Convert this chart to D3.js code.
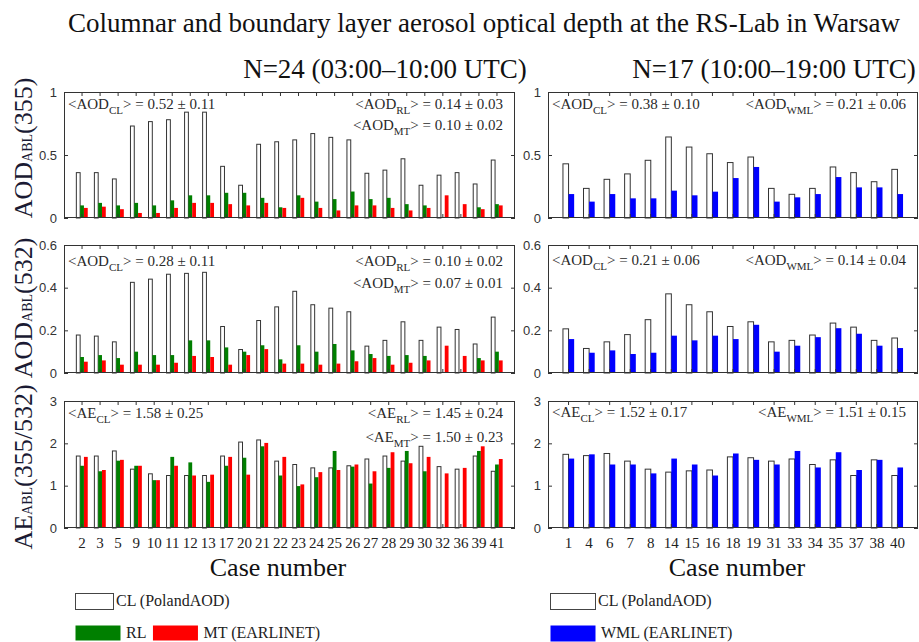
<!DOCTYPE html>
<html><head><meta charset="utf-8">
<script src="https://cdn.jsdelivr.net/npm/d3@7"></script>
<style>
body{margin:0;background:#fff;}
svg{display:block;}
</style></head>
<body>
<svg id="chart" width="919" height="642"></svg>
<script>
// ---------------- DATA ----------------
const casesL = [2,3,5,9,10,11,12,13,17,20,21,22,23,24,25,26,27,28,29,30,32,36,39,41];
const casesR = [1,4,6,7,8,14,15,16,18,19,31,33,34,35,37,38,40];

// left: 03:00-10:00 UTC
const aod355CL_L = [0.36,0.36,0.31,0.73,0.765,0.78,0.84,0.84,0.41,0.26,0.585,0.605,0.62,0.67,0.64,0.62,0.355,0.38,0.47,0.26,0.34,0.36,0.27,0.46];
const aod355RL_L = [0.10,0.12,0.10,0.12,0.10,0.14,0.18,0.18,0.20,0.20,0.16,0.085,0.18,0.13,0.15,0.21,0.15,0.16,0.11,0.10,null,null,0.085,0.11];
const aod355MT_L = [0.08,0.09,0.07,0.04,0.04,0.08,0.12,0.12,0.11,0.10,0.12,0.08,0.16,0.08,0.06,0.10,0.10,0.08,0.06,0.08,0.18,0.11,0.07,0.10];

const aod532CL_L = [0.178,0.173,0.146,0.425,0.44,0.463,0.467,0.472,0.218,0.11,0.246,0.31,0.383,0.32,0.304,0.287,0.126,0.153,0.24,0.153,0.215,0.204,0.136,0.262];
const aod532RL_L = [0.075,0.084,0.07,0.10,0.084,0.084,0.153,0.153,0.12,0.10,0.13,0.064,0.13,0.10,0.136,0.106,0.089,0.08,0.084,0.08,null,null,0.07,0.10];
const aod532MT_L = [0.053,0.059,0.039,0.039,0.039,0.048,0.08,0.075,0.039,0.084,0.112,0.044,0.044,0.039,0.044,0.055,0.07,0.039,0.048,0.059,0.128,0.08,0.059,0.059];

const aeCL_L = [1.70,1.70,1.82,1.39,1.28,1.24,1.24,1.24,1.70,2.03,2.08,1.58,1.50,1.42,1.42,1.47,1.63,1.70,1.58,1.93,1.45,1.39,1.70,1.34];
const aeRL_L = [1.47,1.34,1.59,1.47,1.13,1.68,1.55,1.09,1.47,1.66,1.93,1.24,0.99,1.20,1.82,1.45,1.05,1.42,1.82,1.34,null,null,1.82,1.50];
const aeMT_L = [1.68,1.37,1.61,1.47,1.13,1.47,1.24,1.26,1.68,1.26,2.01,1.68,1.03,1.32,1.37,1.50,1.34,1.79,1.53,1.68,1.29,1.42,1.93,1.63];

// right: 10:00-19:00 UTC
const aod355CL_R  = [0.43,0.235,0.307,0.35,0.458,0.643,0.563,0.51,0.44,0.484,0.235,0.188,0.235,0.405,0.36,0.288,0.386];
const aod355WML_R = [0.19,0.13,0.19,0.156,0.156,0.217,0.18,0.209,0.317,0.405,0.13,0.164,0.19,0.325,0.243,0.243,0.19];
const aod532CL_R  = [0.207,0.115,0.146,0.18,0.25,0.371,0.32,0.287,0.218,0.24,0.146,0.153,0.178,0.234,0.215,0.153,0.164];
const aod532WML_R = [0.159,0.095,0.106,0.089,0.095,0.175,0.153,0.175,0.159,0.226,0.10,0.128,0.168,0.21,0.184,0.128,0.117];
const aeCL_R  = [1.74,1.71,1.76,1.58,1.39,1.32,1.35,1.37,1.68,1.66,1.58,1.63,1.50,1.61,1.24,1.61,1.24];
const aeWML_R = [1.64,1.74,1.50,1.50,1.29,1.64,1.50,1.24,1.76,1.61,1.50,1.82,1.43,1.79,1.37,1.61,1.43];

const yTicksAOD355 = [0,0.5,1];
const yTickLabelsAOD355 = ["0","0.5","1"];
const yTicksAOD532 = [0,0.2,0.4,0.6];
const yTickLabelsAOD532 = ["0","0.2","0.4","0.6"];
const yTicksAE = [0,1,2,3];
const yTickLabelsAE = ["0","1","2","3"];

const titleText = "Columnar and boundary layer aerosol optical depth at  the RS-Lab in Warsaw";
const subtitleL = "N=24 (03:00\u201310:00 UTC)";
const subtitleR = "N=17 (10:00\u201319:00 UTC)";
const xLabel = "Case number";

// ---------------- STYLE ----------------
const COL = {CL:"#ffffff", RL:"#007f00", MT:"#ff0000", WML:"#0000ff"};
const SERIF = "'Liberation Serif','Times New Roman',serif";
const SANS = "'Liberation Sans',Arial,sans-serif";
const TXT = "#2a2a2a";

const svg = d3.select("#chart");

// Title & subtitles
svg.append("text").attr("x",484).attr("y",32).attr("text-anchor","middle")
  .attr("font-family",SERIF).attr("font-size",27).attr("fill","#111").text(titleText);
svg.append("text").attr("x",385).attr("y",78).attr("text-anchor","middle")
  .attr("font-family",SERIF).attr("font-size",27).attr("fill","#111").text(subtitleL);
svg.append("text").attr("x",774).attr("y",78).attr("text-anchor","middle")
  .attr("font-family",SERIF).attr("font-size",27).attr("fill","#111").text(subtitleR);

// Panel layout
const colsX = {L:[64,515], R:[548,918]};
const rowsY = [[92,218],[245,373],[401,528]];

function annot(g, x, y, anchor, main, sub, rest){
  const t = g.append("text").attr("x",x).attr("y",y).attr("text-anchor",anchor)
    .attr("font-family",SERIF).attr("font-size",15).attr("fill",TXT);
  t.append("tspan").text(main);
  t.append("tspan").attr("font-size",11).attr("dy",5).text(sub);
  t.append("tspan").attr("dy",-5).text(rest);
}

function panel(opt){
  const [x0,x1] = colsX[opt.col];
  const [y0,y1] = rowsY[opt.row];
  const g = svg.append("g");
  const x = d3.scaleBand().domain(opt.cases.map(String)).range([x0,x1]).paddingInner(0).paddingOuter(0.5);
  const y = d3.scaleLinear().domain([0,opt.ymax]).range([y1,y0]);
  const bw = opt.barW;
  const sub = d3.scaleBand().domain(opt.series.map(s=>s.key))
      .range([-bw*opt.series.length/2, bw*opt.series.length/2]).padding(0);

  // bars
  opt.series.forEach(s=>{
    const d = opt.cases.map((c,i)=>({c:String(c), v:s.values[i]})).filter(o=>o.v!=null);
    g.selectAll(null).data(d).enter().append("rect")
      .attr("x",o=>x(o.c)+x.bandwidth()/2+sub(s.key))
      .attr("width",sub.bandwidth())
      .attr("y",o=>y(o.v))
      .attr("height",o=>y(0)-y(o.v))
      .attr("fill",COL[s.key])
      .attr("stroke",s.key==="CL"?"#333":"none")
      .attr("stroke-width",s.key==="CL"?1:0);
  });

  // axes with inward ticks
  const ax = g.append("g").attr("transform",`translate(${x0},0)`)
    .call(d3.axisLeft(y).tickValues(opt.ticks).tickFormat((d,i)=>opt.tickLabels[i]).tickSize(-4).tickPadding(7));
  ax.select(".domain").remove();
  ax.selectAll("text").attr("font-family",SANS).attr("font-size",13).attr("fill","#333");
  ax.selectAll("line").attr("stroke","#333");
  const ar = g.append("g").attr("transform",`translate(${x1},0)`)
    .call(d3.axisRight(y).tickValues(opt.ticks).tickFormat("").tickSize(-4));
  ar.select(".domain").remove(); ar.selectAll("line").attr("stroke","#333");
  const at = g.append("g").attr("transform",`translate(0,${y0})`)
    .call(d3.axisTop(x).tickFormat("").tickSize(-4));
  at.select(".domain").remove(); at.selectAll("line").attr("stroke","#333");
  const ab = g.append("g").attr("transform",`translate(0,${y1})`)
    .call(d3.axisBottom(x).tickFormat(opt.showX? (d=>d) : "").tickSize(-4).tickPadding(9));
  ab.select(".domain").remove(); ab.selectAll("line").attr("stroke","#333");
  ab.selectAll("text").attr("font-family",SERIF).attr("font-size",15).attr("fill","#222");

  // frame
  g.append("rect").attr("x",x0+0.5).attr("y",y0+0.5).attr("width",x1-x0-1).attr("height",y1-y0-1)
    .attr("fill","none").attr("stroke","#333").attr("stroke-width",1);

  // annotations
  opt.annots.forEach(a=>annot(g, a.side==="l"? x0+4 : x1-12, y0+a.dy, a.side==="l"?"start":"end", a.main, a.sub, a.rest));
}

const seriesL = (cl,rl,mt)=>[{key:"CL",values:cl},{key:"RL",values:rl},{key:"MT",values:mt}];
const seriesR = (cl,w)=>[{key:"CL",values:cl},{key:"WML",values:w}];

panel({col:"L",row:0,cases:casesL,ymax:1,ticks:yTicksAOD355,tickLabels:yTickLabelsAOD355,barW:3.8,
  series:seriesL(aod355CL_L,aod355RL_L,aod355MT_L),
  annots:[{side:"l",dy:17,main:"<AOD",sub:"CL",rest:"> = 0.52 \u00b1 0.11"},
          {side:"r",dy:17,main:"<AOD",sub:"RL",rest:"> = 0.14 \u00b1 0.03"},
          {side:"r",dy:38,main:"<AOD",sub:"MT",rest:"> = 0.10 \u00b1 0.02"}]});
panel({col:"L",row:1,cases:casesL,ymax:0.6,ticks:yTicksAOD532,tickLabels:yTickLabelsAOD532,barW:3.8,
  series:seriesL(aod532CL_L,aod532RL_L,aod532MT_L),
  annots:[{side:"l",dy:21,main:"<AOD",sub:"CL",rest:"> = 0.28 \u00b1 0.11"},
          {side:"r",dy:21,main:"<AOD",sub:"RL",rest:"> = 0.10 \u00b1 0.02"},
          {side:"r",dy:43,main:"<AOD",sub:"MT",rest:"> = 0.07 \u00b1 0.01"}]});
panel({col:"L",row:2,cases:casesL,ymax:3,ticks:yTicksAE,tickLabels:yTickLabelsAE,barW:3.8,showX:true,
  series:seriesL(aeCL_L,aeRL_L,aeMT_L),
  annots:[{side:"l",dy:17,main:"<AE",sub:"CL",rest:"> = 1.58 \u00b1 0.25"},
          {side:"r",dy:17,main:"<AE",sub:"RL",rest:"> = 1.45 \u00b1 0.24"},
          {side:"r",dy:41,main:"<AE",sub:"MT",rest:"> = 1.50 \u00b1 0.23"}]});

panel({col:"R",row:0,cases:casesR,ymax:1,ticks:yTicksAOD355,tickLabels:yTickLabelsAOD355,barW:5.6,
  series:seriesR(aod355CL_R,aod355WML_R),
  annots:[{side:"l",dy:17,main:"<AOD",sub:"CL",rest:"> = 0.38 \u00b1 0.10"},
          {side:"r",dy:17,main:"<AOD",sub:"WML",rest:"> = 0.21 \u00b1 0.06"}]});
panel({col:"R",row:1,cases:casesR,ymax:0.6,ticks:yTicksAOD532,tickLabels:yTickLabelsAOD532,barW:5.6,
  series:seriesR(aod532CL_R,aod532WML_R),
  annots:[{side:"l",dy:20,main:"<AOD",sub:"CL",rest:"> = 0.21 \u00b1 0.06"},
          {side:"r",dy:20,main:"<AOD",sub:"WML",rest:"> = 0.14 \u00b1 0.04"}]});
panel({col:"R",row:2,cases:casesR,ymax:3,ticks:yTicksAE,tickLabels:yTickLabelsAE,barW:5.6,showX:true,
  series:seriesR(aeCL_R,aeWML_R),
  annots:[{side:"l",dy:16,main:"<AE",sub:"CL",rest:"> = 1.52 \u00b1 0.17"},
          {side:"r",dy:16,main:"<AE",sub:"WML",rest:"> = 1.51 \u00b1 0.15"}]});

// y labels
function ylab(cy, main, rest){
  const t = svg.append("text").attr("transform",`translate(32,${cy}) rotate(-90)`)
    .attr("text-anchor","middle").attr("font-family",SERIF).attr("font-size",26).attr("fill","#1a1a33");
  t.append("tspan").text(main);
  t.append("tspan").attr("font-size",14).text("ABL");
  t.append("tspan").text(rest);
}
ylab(148,"AOD","(355)");
ylab(308,"AOD","(532)");
ylab(467,"AE","(355/532)");

// x labels
svg.append("text").attr("x",278).attr("y",576).attr("text-anchor","middle")
  .attr("font-family",SERIF).attr("font-size",26).attr("fill","#111").text(xLabel);
svg.append("text").attr("x",737).attr("y",576).attr("text-anchor","middle")
  .attr("font-family",SERIF).attr("font-size",26).attr("fill","#111").text(xLabel);

// legends
const legendL1 = [{key:"CL",label:"CL (PolandAOD)"}];
const legendL2 = [{key:"RL",label:"RL"},{key:"MT",label:"MT (EARLINET)"}];
const legendR1 = [{key:"CL",label:"CL (PolandAOD)"}];
const legendR2 = [{key:"WML",label:"WML  (EARLINET)"}];
function legendItem(x,y,w,h,key,label,gap){
  svg.append("rect").attr("x",x+0.5).attr("y",y+0.5).attr("width",w).attr("height",h)
    .attr("fill",COL[key]).attr("stroke",key==="CL"?"#444":"none");
  const t = svg.append("text").attr("x",x+w+gap).attr("y",y+h/2+5)
    .attr("font-family",SERIF).attr("font-size",16).attr("fill","#222").text(label);
  return t.node().getComputedTextLength();
}
legendItem(75,593,38,16,legendL1[0].key,legendL1[0].label,3);
let lx = 75;
legendL2.forEach(it=>{ const w = legendItem(lx,625,45,15,it.key,it.label,6); lx += 45+6+w+6; });
legendItem(550,593,45,16,legendR1[0].key,legendR1[0].label,3);
legendItem(550,625,45,16,legendR2[0].key,legendR2[0].label,6);
</script>
</body></html>
